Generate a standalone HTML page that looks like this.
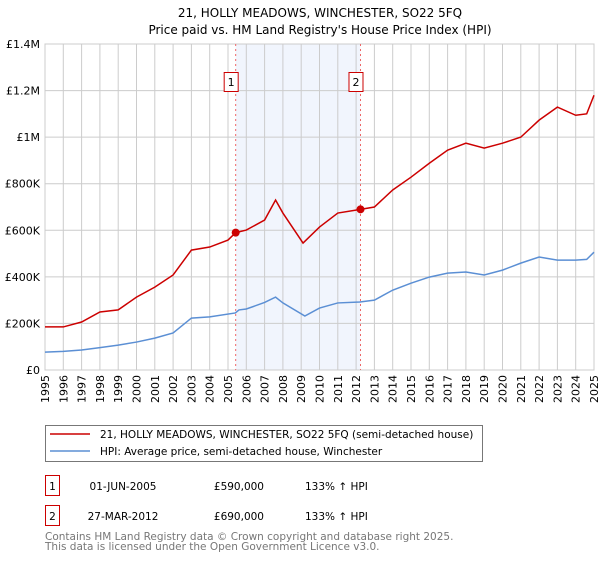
<!DOCTYPE html>
<html><head><meta charset="utf-8"><style>
body{margin:0;background:#fff;font-family:"DejaVu Sans","Liberation Sans",sans-serif;}
svg text{font-family:"DejaVu Sans","Liberation Sans",sans-serif;}
</style></head><body>
<svg id="c" width="600" height="560" xmlns="http://www.w3.org/2000/svg">
<text x="320" y="17" text-anchor="middle" font-size="12">21, HOLLY MEADOWS, WINCHESTER, SO22 5FQ</text>
<text x="320" y="34" text-anchor="middle" font-size="12">Price paid vs. HM Land Registry's House Price Index (HPI)</text>
<g id="plot"></g>
<g>
<rect x="45.5" y="425.5" width="437" height="36" fill="#fff" stroke="#777"/>
<line x1="50" y1="434" x2="90" y2="434" stroke="#cc0000" stroke-width="1.5"/>
<text x="100" y="438" font-size="10.5">21, HOLLY MEADOWS, WINCHESTER, SO22 5FQ (semi-detached house)</text>
<line x1="50" y1="451" x2="90" y2="451" stroke="#5b8fd4" stroke-width="1.5"/>
<text x="100" y="455" font-size="10.5">HPI: Average price, semi-detached house, Winchester</text>
</g>
<g font-size="10.5">
<rect x="45.5" y="475.5" width="14" height="20" fill="#fff" stroke="#cc0000"/>
<text x="52.5" y="490" text-anchor="middle">1</text>
<text x="123" y="490" text-anchor="middle">01-JUN-2005</text>
<text x="264" y="490" text-anchor="end">£590,000</text>
<text x="305" y="490">133% ↑ HPI</text>
<rect x="45.5" y="505.5" width="14" height="20" fill="#fff" stroke="#cc0000"/>
<text x="52.5" y="520" text-anchor="middle">2</text>
<text x="123" y="520" text-anchor="middle">27-MAR-2012</text>
<text x="264" y="520" text-anchor="end">£690,000</text>
<text x="305" y="520">133% ↑ HPI</text>
</g>
<text x="45" y="540" font-size="10.5" fill="#777">Contains HM Land Registry data © Crown copyright and database right 2025.</text>
<text x="45" y="550" font-size="10.5" fill="#777">This data is licensed under the Open Government Licence v3.0.</text>
</svg>
<script>
const hpiYears=[1995,1996,1997,1998,1999,2000,2001,2002,2003,2004,2005.4,2005.6,2006,2007,2007.6,2008,2009.2,2010,2011,2012.2,2013,2014,2015,2016,2017,2018,2019,2020,2021,2022,2023,2024,2024.6,2025];
const hpiValues=[77000,80000,86000,96000,107000,120000,137000,159000,223000,228000,245000,258000,262000,290000,313000,288000,232000,266000,288000,292000,300000,343000,373000,399000,416000,421000,408000,429000,459000,485000,472000,472000,475000,506000];
const propYears=[1995,1996,1997,1998,1999,2000,2001,2002,2003,2004,2005,2005.42,2006,2007,2007.6,2008,2009.1,2010,2011,2012.24,2013,2014,2015,2016,2017,2018,2019,2020,2021,2022,2023,2024,2024.6,2025];
const propValues=[185000,185000,206000,249000,258000,313000,356000,408000,515000,528000,558000,590000,601000,644000,730000,674000,545000,614000,674000,690000,700000,773000,828000,888000,944000,974000,953000,974000,1000000,1073000,1129000,1094000,1100000,1180000];
const yTicks=[0,200000,400000,600000,800000,1000000,1200000,1400000];
const yTickLabels=["£0","£200K","£400K","£600K","£800K","£1M","£1.2M","£1.4M"];
const xTicks=[1995,1996,1997,1998,1999,2000,2001,2002,2003,2004,2005,2006,2007,2008,2009,2010,2011,2012,2013,2014,2015,2016,2017,2018,2019,2020,2021,2022,2023,2024,2025];
const sales=[{id:"1",year:2005.42,value:590000},{id:"2",year:2012.24,value:690000}];
const X0=45,X1=594,Y0=370,Y1=44;
const x=t=>X0+(t-1995)/30*(X1-X0);
const y=v=>Y0-v/1400000*(Y0-Y1);
const NS="http://www.w3.org/2000/svg";
const g=document.getElementById('plot');
function mk(tag,attrs,parent){const e=document.createElementNS(NS,tag);for(const k in attrs)e.setAttribute(k,attrs[k]);(parent||g).appendChild(e);return e;}
const shade=mk('rect',{x:x(sales[0].year),y:Y1,width:x(sales[1].year)-x(sales[0].year),height:Y0-Y1,fill:'#eef3fd',opacity:0.8});


yTicks.forEach((v,i)=>{
 const l=mk('line',{x1:X0,x2:X1,y1:y(v),y2:y(v),stroke:'#ccc'});
 
 
 const t=mk('text',{x:X0-5,y:y(v)+4,'text-anchor':'end','font-size':11});
 t.textContent=yTickLabels[i];
 
 
});
xTicks.forEach(yr=>{
 const l=mk('line',{x1:x(yr),x2:x(yr),y1:Y1,y2:Y0,stroke:'#ccc'});
 
 
 const t=mk('text',{x:0,y:0,'text-anchor':'end','font-size':11,transform:`translate(${x(yr)+4},${Y0+5}) rotate(-90)`});
 t.textContent=yr;
 
 
});
const frame=mk('rect',{x:X0,y:Y1,width:X1-X0,height:Y0-Y1,fill:'none',stroke:'#ccc'});


sales.forEach(s=>{
 const l=mk('line',{x1:x(s.year),x2:x(s.year),y1:Y1,y2:Y0,stroke:'#e66','stroke-dasharray':'2,3'});
 
 
 const r=mk('rect',{x:x(s.year)-11.5,y:72.5,width:14,height:19,fill:'#fff',stroke:'#cc0000'});
 
 
 const t=mk('text',{x:x(s.year)-4.5,y:86,'text-anchor':'middle','font-size':11});
 t.textContent=s.id;
 
 
});
const hp=mk('polyline',{points:hpiYears.map((t,i)=>x(t)+','+y(hpiValues[i])).join(' '),fill:'none',stroke:'#5b8fd4','stroke-width':1.5});


const pp=mk('polyline',{points:propYears.map((t,i)=>x(t)+','+y(propValues[i])).join(' '),fill:'none',stroke:'#cc0000','stroke-width':1.5});


sales.forEach(s=>{
 const c=mk('circle',{cx:x(s.year),cy:y(s.value),r:4,fill:'#cc0000'});
 
 
});
</script>
</body></html>
